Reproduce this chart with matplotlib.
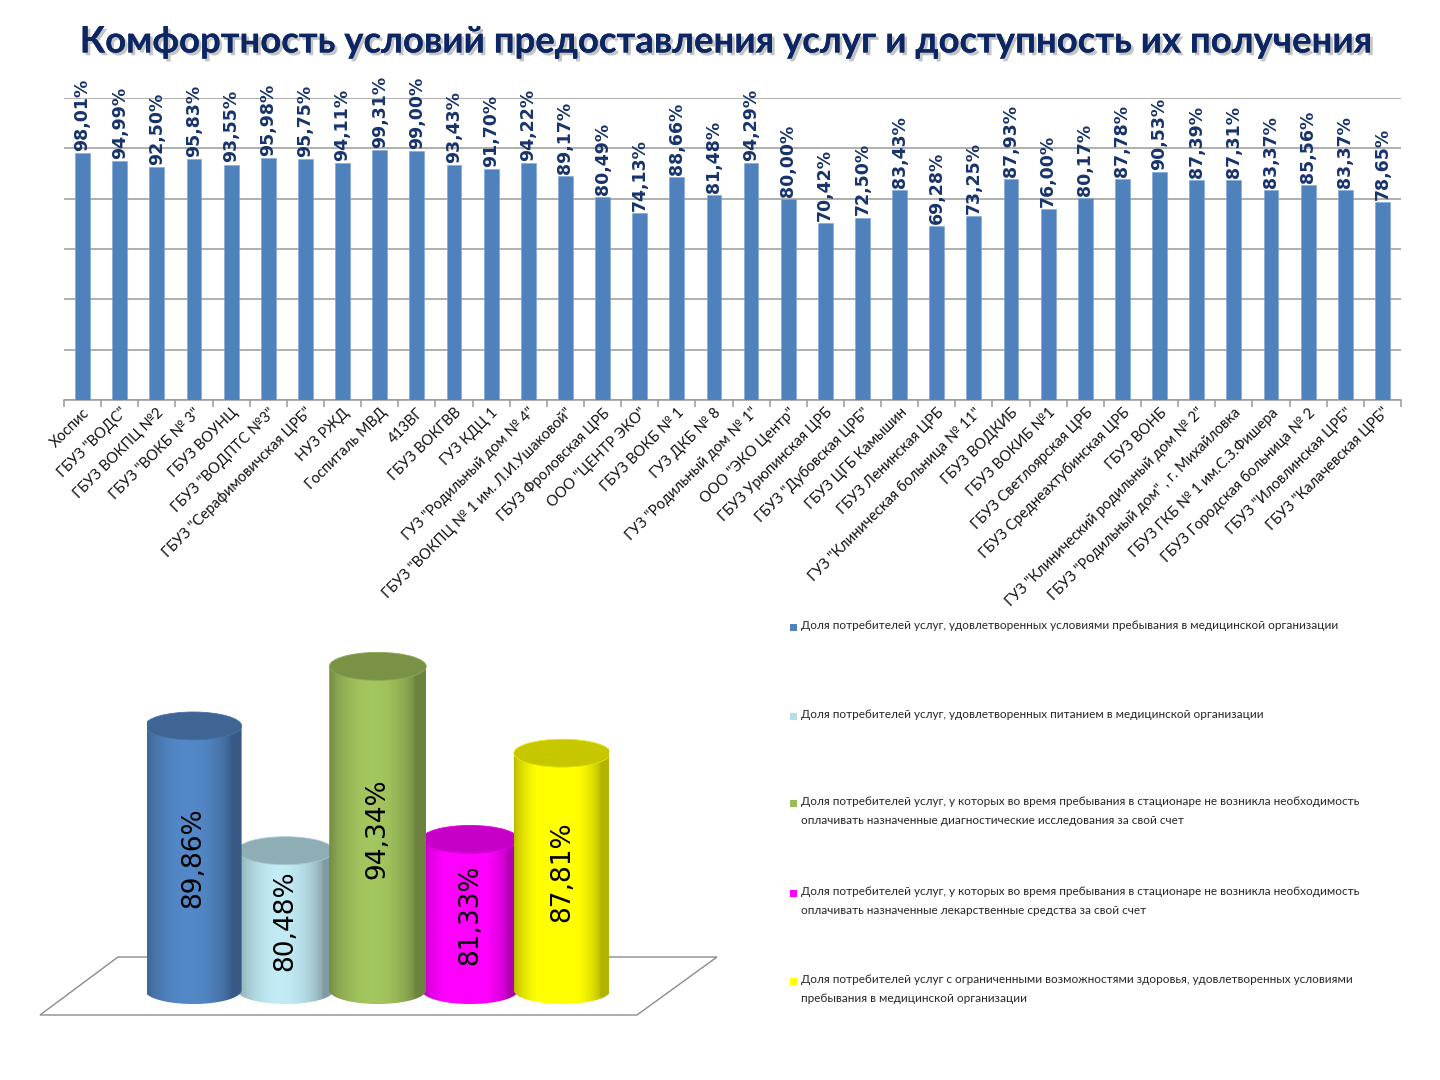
import numpy as np
import matplotlib
matplotlib.use('Agg')
import matplotlib.pyplot as plt
import matplotlib.colors as mcolors
from matplotlib.path import Path
from matplotlib.patches import Ellipse, Polygon, Rectangle
import matplotlib.patheffects as pe

plt.rcParams['font.family'] = ['DejaVu Sans']

title = "Комфортность условий предоставления услуг и доступность их получения"

categories = [
    'Хоспис', 'ГБУЗ "ВОДС"', 'ГБУЗ ВОКПЦ №2', 'ГБУЗ "ВОКБ № 3"', 'ГБУЗ ВОУНЦ',
    'ГБУЗ "ВОДПТС №3"', 'ГБУЗ "Серафимовичская ЦРБ"', 'НУЗ РЖД', 'Госпиталь МВД',
    '413ВГ', 'ГБУЗ ВОКГВВ', 'ГУЗ КДЦ 1', 'ГУЗ "Родильный дом № 4"',
    'ГБУЗ "ВОКПЦ № 1 им. Л.И.Ушаковой"', 'ГБУЗ Фроловская ЦРБ', 'ООО "ЦЕНТР ЭКО"',
    'ГБУЗ ВОКБ № 1', 'ГУЗ ДКБ № 8', 'ГУЗ "Родильный дом № 1"', 'ООО "ЭКО Центр"',
    'ГБУЗ Урюпинская ЦРБ', 'ГБУЗ "Дубовская ЦРБ"', 'ГБУЗ ЦГБ Камышин',
    'ГБУЗ Ленинская ЦРБ', 'ГУЗ "Клиническая больница № 11"', 'ГБУЗ ВОДКИБ',
    'ГБУЗ ВОКИБ №1', 'ГБУЗ Светлоярская ЦРБ', 'ГБУЗ Среднеахтубинская ЦРБ',
    'ГБУЗ ВОНБ', 'ГУЗ "Клинический родильный дом № 2"',
    'ГБУЗ "Родильный дом" , г. Михайловка', 'ГБУЗ ГКБ № 1 им.С.З.Фишера',
    'ГБУЗ Городская больница № 2', 'ГБУЗ "Иловлинская ЦРБ"', 'ГБУЗ "Калачевская ЦРБ"',
]
values = [
    98.01, 94.99, 92.50, 95.83, 93.55, 95.98, 95.75, 94.11, 99.31, 99.00,
    93.43, 91.70, 94.22, 89.17, 80.49, 74.13, 88.66, 81.48, 94.29, 80.00,
    70.42, 72.50, 83.43, 69.28, 73.25, 87.93, 76.00, 80.17, 87.78, 90.53,
    87.39, 87.31, 83.37, 85.56, 83.37, 78.65,
]

summary_labels = [
    "Доля потребителей услуг, удовлетворенных условиями пребывания в медицинской организации",
    "Доля потребителей услуг, удовлетворенных питанием в медицинской организации",
    "Доля потребителей услуг, у которых во время пребывания в стационаре не возникла необходимость\nоплачивать назначенные диагностические исследования за свой счет",
    "Доля потребителей услуг, у которых во время пребывания в стационаре не возникла необходимость\nоплачивать назначенные лекарственные средства за свой счет",
    "Доля потребителей услуг с ограниченными возможностями здоровья, удовлетворенных условиями\nпребывания в медицинской организации",
]
summary_values = [89.86, 80.48, 94.34, 81.33, 87.81]
summary_colors = ['#4F81BD', '#B7DEE8', '#9BBB59', '#FF00FF', '#FFFF00']

W, H = 1440, 1080
fig = plt.figure(figsize=(14.4, 10.8), dpi=100)
fig.patch.set_facecolor('white')


def fx(px):
    return px / W


def fy(py):
    return 1 - py / H


def pct(v):
    return f"{v:.2f}%".replace('.', ',')


# ---------------- Title ----------------
fig.text(fx(726), fy(42), title, ha='center', va='center', fontsize=26.3,
         fontweight='bold', family=['Lato', 'DejaVu Sans'], color='#0C2664',
         path_effects=[pe.withSimplePatchShadow(offset=(2, -2), shadow_rgbFace='#7F7F7F', alpha=0.45),
                       pe.Normal()])

# ---------------- Top bar chart ----------------
ax = fig.add_axes([fx(64), fy(400), fx(1401) - fx(64), fy(98) - fy(400)])
ax.patch.set_alpha(0)
x = np.arange(len(categories))
ax.bar(x, values, width=0.4, color='#4F81BD', edgecolor='#7BA3D4', linewidth=0.4, zorder=3)
ax.set_xlim(-0.5, len(categories) - 0.5)
ax.set_ylim(0, 120)
ax.set_yticks(np.arange(0, 121, 20))
ax.tick_params(axis='y', length=0, labelleft=False)
ax.grid(axis='y', color='#9A9A9A', linewidth=1.1)
ax.set_axisbelow(True)
for s in ['left', 'right', 'top']:
    ax.spines[s].set_visible(False)
ax.spines['bottom'].set_color('#9A9A9A')
ax.spines['bottom'].set_linewidth(1.1)
ax.set_xticks(x)
ax.set_xticklabels(categories, rotation=45, ha='right', va='top', rotation_mode='anchor',
                   fontsize=10.5, family=['Lato', 'DejaVu Sans'], color='#111111')
ax.tick_params(axis='x', which='major', length=0, pad=4)
ax.set_xticks(np.arange(-0.5, len(categories), 1), minor=True)
ax.tick_params(axis='x', which='minor', length=5, width=1.1, color='#9A9A9A', direction='out')

for xi, v in zip(x, values):
    ax.annotate(pct(v), (xi, v), xytext=(0, 1.5), textcoords='offset points', rotation=90,
                ha='center', va='bottom', fontsize=12.5, fontweight='bold', color='#17336B',
                annotation_clip=False, zorder=5)

# ---------------- Floor of 3D chart ----------------
floor_px = [(40, 1015), (637, 1015), (717, 957), (118, 957)]
floor = Polygon([(fx(a), fy(b)) for a, b in floor_px], closed=True, transform=fig.transFigure,
                facecolor='white', edgecolor='#8C8C8C', linewidth=1.0, zorder=-1)
fig.add_artist(floor)

# ---------------- Cylinder chart ----------------
base = 70.0
ax2 = fig.add_axes([fx(147), fy(1010), fx(608.5) - fx(147), fy(631) - fy(1010)])
ax2.patch.set_alpha(0)
ax2.set_axis_off()
cw = 1.05   # cylinder width in category units
eh = 2.1    # ellipse height in value units


def cylinder(axx, xc, top, color, z):
    c = np.array(mcolors.to_rgb(color))
    t = np.linspace(0, 1, 256)
    s = np.sin(np.pi * np.clip(t * 1.12, 0, 1)) ** 0.6
    shade = 0.70 + 0.36 * s
    img = np.clip(c[None, :] * shade[:, None], 0, 1)[None, :, :]
    left, right = xc - cw / 2, xc + cw / 2
    th = np.linspace(np.pi, 2 * np.pi, 60)
    verts = [(left, top)] + [(xc + cw / 2 * np.cos(a), base + eh / 2 * np.sin(a)) for a in th] + [(right, top), (left, top)]
    path = Path(verts, closed=True)
    im = axx.imshow(img, extent=(left, right, base - eh / 2, top), aspect='auto',
                    origin='lower', zorder=z, interpolation='bilinear')
    im.set_clip_path(path, transform=axx.transData)
    topc = np.clip(c * 0.78, 0, 1)
    axx.add_patch(Ellipse((xc, top), cw, eh, facecolor=topc, edgecolor=np.clip(c * 0.9, 0, 1),
                          linewidth=0.6, zorder=z + 0.1))


order_z = [3, 2, 3, 2, 3]
for i, (v, col) in enumerate(zip(summary_values, summary_colors)):
    cylinder(ax2, i, v, col, order_z[i])
    ax2.text(i, (base + v) / 2, pct(v), rotation=90, ha='center', va='center',
             fontsize=19, color='black', zorder=10)

ax2.set_xlim(-0.5, len(summary_values) - 0.5)
ax2.set_ylim(68.5, 97)

# ---------------- Legend ----------------
leg_y = [627, 716, 803, 893, 981]
for yy, lab, col in zip(leg_y, summary_labels, summary_colors):
    fig.add_artist(Rectangle((fx(790), fy(yy + 4)), fx(7), 7 / H, transform=fig.transFigure,
                             facecolor=col, edgecolor='none'))
    fig.text(fx(801), fy(yy - 7), lab, ha='left', va='top', fontsize=8.5,
             family=['Lato', 'DejaVu Sans'], color='#262626', linespacing=1.85)

fig.savefig('out.png', dpi=100, facecolor='white')
